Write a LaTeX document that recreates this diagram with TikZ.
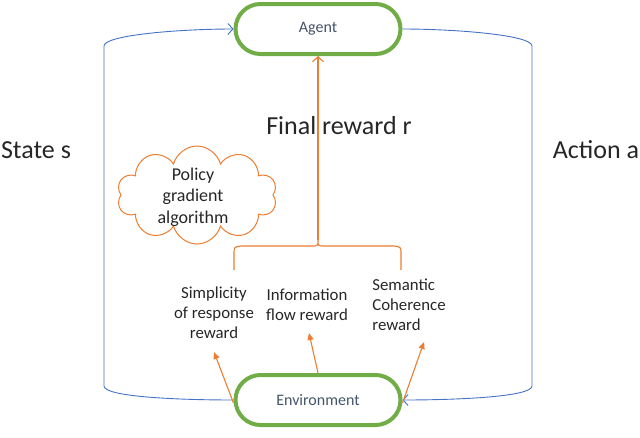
\documentclass[tikz,border=0pt]{standalone}
\usepackage{fontspec}
\setmainfont{Carlito}
\usetikzlibrary{arrows.meta,shapes.symbols}
\definecolor{grn}{HTML}{70AD47}
\definecolor{org}{HTML}{ED7D31}
\definecolor{blu}{HTML}{4472C4}
\definecolor{txt}{HTML}{44546A}
\definecolor{dark}{HTML}{262626}
\begin{document}
\begin{tikzpicture}[x=1pt,y=-1pt,
 term/.style={draw=grn,line width=4pt,rounded corners=25pt,minimum width=165pt,minimum height=50pt,inner sep=0pt,text=txt,font=\fontsize{16}{19}\selectfont},
 bigtxt/.style={text=dark,font=\fontsize{26}{30}\selectfont,inner sep=0pt},
 rtxt/.style={text=dark,font=\fontsize{16.8}{20}\selectfont,inner sep=0pt,align=center},
 loopline/.style={draw=blu,line width=0.9pt},
 oline/.style={draw=org,line width=1.1pt},
 oarr/.style={oline,-{Triangle[length=7pt,width=6pt]}},
 barb/.style={-{Straight Barb[length=5pt,width=11pt]}},
]
\useasboundingbox (0,0) rectangle (640,437);
\node[term] (agent) at (318,29) {Agent};
\node[term] (env) at (318,400) {Environment};
% blue loop
\draw[loopline,barb] (env.west) .. controls (180,400) and (104,397) .. (104,386) -- (104,46) .. controls (104,35) and (180,29) .. (agent.west);
\draw[loopline,barb] (agent.east) .. controls (455,29) and (532,35) .. (532,46) -- (532,386) .. controls (532,397) and (455,400) .. (env.east);
% orange brace and final reward arrow
\coordinate (bc) at (318,240);
\draw[oline] (234,270) -- (234,254) .. controls (234,247) .. (241,246) -- (311,246) .. controls (318,246) .. (bc) .. controls (318,246) .. (325,246) -- (394,246) .. controls (401,247) .. (401,254) -- (401,270);
\draw[oline,barb] (bc) -- (agent.south);
% texts
\node[bigtxt] (fr) at (339,126) {Final reward r};
\node[bigtxt] (st) at (36,150) {State s};
\node[bigtxt] (ac) at (596,150) {Action a};
% cloud
\node[cloud,cloud ignores aspect,draw=org,line width=1pt,cloud puffs=10,minimum width=160pt,minimum height=98pt,inner sep=0pt] (cloud) at (197,195) {};
\node[rtxt,font=\fontsize{18}{21.5}\selectfont] (pga) at (193,197) {Policy\\gradient\\algorithm};
% reward labels
\node[rtxt] (r1) at (214,313) {Simplicity\\of response\\reward};
\node[rtxt] (r2) at (307,305) {Information\\flow reward};
\node[rtxt,align=left] (r3) at (409,305) {Semantic\\Coherence\\reward};
\coordinate (t1) at (214,352);
\coordinate (t2) at (309,333);
\coordinate (t3) at (424,342);
\draw[oarr] ([yshift=-3pt]env.west) -- (t1);
\draw[oarr] (env.north) -- (t2);
\draw[oarr] ([yshift=-3pt]env.east) -- (t3);
\end{tikzpicture}
\end{document}
